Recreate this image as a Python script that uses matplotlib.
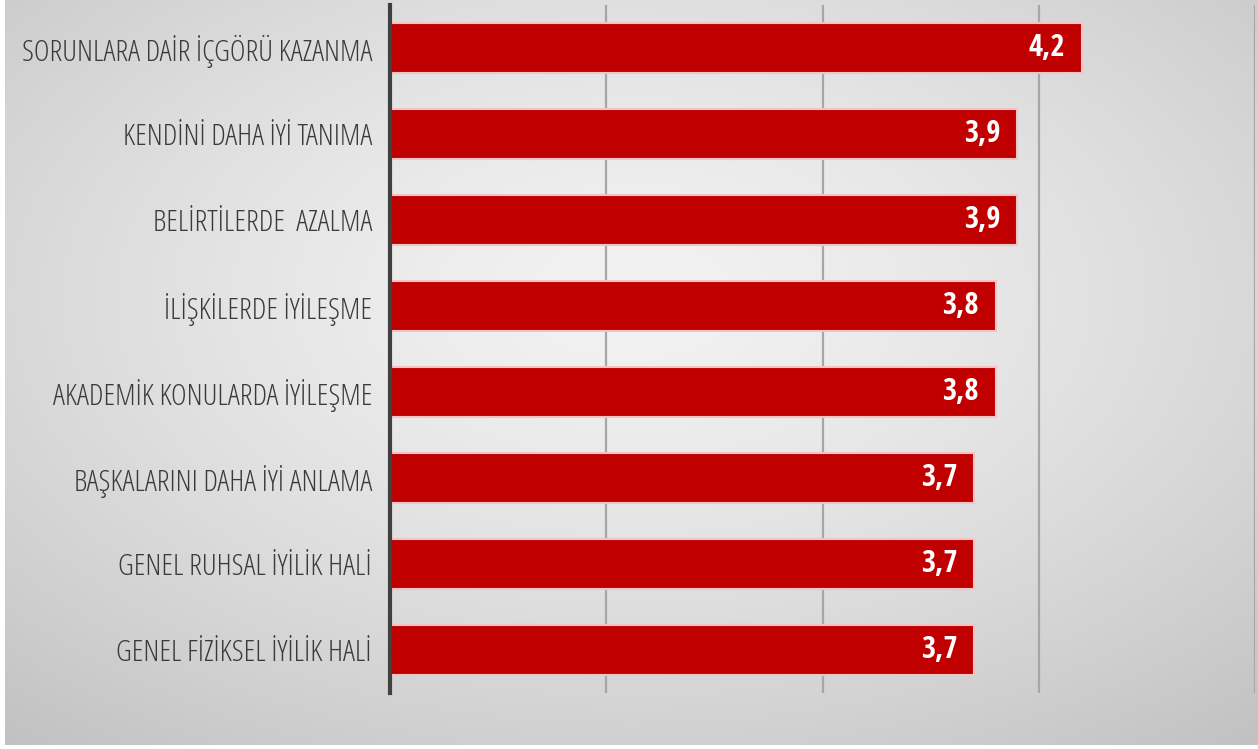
import numpy as np
import matplotlib
matplotlib.use("Agg")
import matplotlib.pyplot as plt

categories = [
    "SORUNLARA DAİR İÇGÖRÜ KAZANMA",
    "KENDİNİ DAHA İYİ TANIMA",
    "BELİRTİLERDE  AZALMA",
    "İLİŞKİLERDE İYİLEŞME",
    "AKADEMİK KONULARDA İYİLEŞME",
    "BAŞKALARINI DAHA İYİ ANLAMA",
    "GENEL RUHSAL İYİLİK HALİ",
    "GENEL FİZİKSEL İYİLİK HALİ",
]
values = [4.2, 3.9, 3.9, 3.8, 3.8, 3.7, 3.7, 3.7]
value_labels = ["4,2", "3,9", "3,9", "3,8", "3,8", "3,7", "3,7", "3,7"]

W, H = 1258, 749
fig = plt.figure(figsize=(W / 100, H / 100), dpi=100)
fig.patch.set_facecolor("white")

# gradient background
bg = fig.add_axes([5 / W, 4 / H, (W - 5) / W, (H - 4) / H])
yy, xx = np.mgrid[0:1:300j, 0:1:500j]
d = np.sqrt(((xx - 0.5) / 1.0) ** 2 + ((yy - 0.6) / 1.0) ** 2)
g = 0.95 - 0.20 * np.clip(d / 0.8, 0, 1) ** 1.4
bg.imshow(np.dstack([g, g, g]), aspect="auto", extent=[0, 1, 0, 1], origin="lower")
bg.set_axis_off()

ax = fig.add_axes([390 / W, (H - 693) / H, (1255 - 390) / W, (693 - 5) / H])
ax.set_facecolor("none")
y = np.arange(len(categories))
ax.barh(y, values, height=0.58, left=0, color="#C00000",
        edgecolor="#f2c4c4", linewidth=1.5, zorder=3)
ax.set_xlim(1, 5)
ax.set_ylim(len(categories) - 0.5, -0.5)
ax.set_xticks([2, 3, 4, 5])
ax.xaxis.grid(True, color="#a6a6a6", linewidth=1.6, zorder=0)
ax.tick_params(axis="x", length=0, labelbottom=False)
ax.tick_params(axis="y", length=0, pad=13)
ax.set_yticks(y)
ax.set_yticklabels(categories)
for t in ax.get_yticklabels():
    t.set_family(["Open Sans", "DejaVu Sans"])
    t.set_fontstretch("condensed")
    t.set_fontweight(300)
    t.set_fontsize(21.6)
    t.set_color("#3a3a3a")
for s in ["top", "right", "bottom"]:
    ax.spines[s].set_visible(False)
ax.spines["left"].set_color("#404040")
ax.spines["left"].set_linewidth(3)
ax.spines["left"].set_zorder(4)

for yi, v, lab in zip(y, values, value_labels):
    ax.annotate(lab, xy=(v, yi), xytext=(-12, 0), textcoords="offset points",
                ha="right", va="center", color="white", fontsize=22,
                fontweight="bold", family=["Open Sans Condensed", "DejaVu Sans"],
                zorder=5)

fig.savefig("out.png", dpi=100)
